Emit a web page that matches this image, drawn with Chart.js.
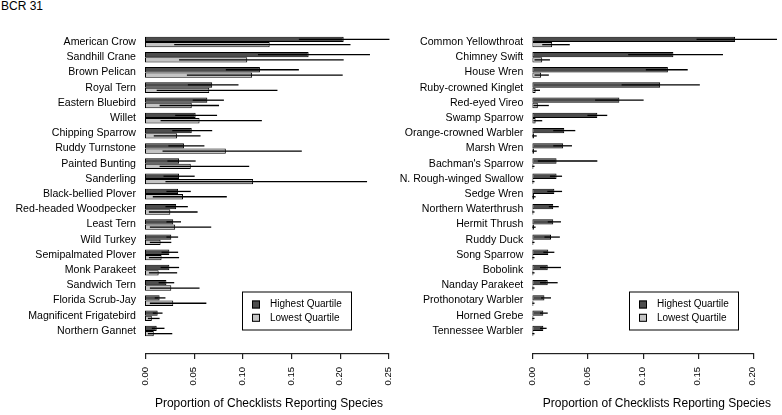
<!DOCTYPE html>
<html>
<head>
<meta charset="utf-8">
<script src="https://cdn.jsdelivr.net/npm/chart.js@4.4.0/dist/chart.umd.min.js"></script>
<style>
  body { margin: 0; background: #fff; width: 782px; height: 415px; position: relative; overflow: hidden;
         font-family: "Liberation Sans", Arial, sans-serif; }
  #title { position: absolute; left: 1px; top: -1px; font-size: 12px; line-height: 14px; color: #000; }
  #w1 { position: absolute; left: 0; top: 0; width: 400px; height: 415px; }
  #w2 { position: absolute; left: 380px; top: 0; width: 402px; height: 415px; }
</style>
</head>
<body>
<div id="title">BCR 31</div>
<div id="w1"><canvas id="left"></canvas></div>
<div id="w2"><canvas id="right"></canvas></div>
<script>
// left panel
var leftSpecies = ["American Crow", "Sandhill Crane", "Brown Pelican", "Royal Tern", "Eastern Bluebird",
  "Willet", "Chipping Sparrow", "Ruddy Turnstone", "Painted Bunting", "Sanderling",
  "Black-bellied Plover", "Red-headed Woodpecker", "Least Tern", "Wild Turkey", "Semipalmated Plover",
  "Monk Parakeet", "Sandwich Tern", "Florida Scrub-Jay", "Magnificent Frigatebird", "Northern Gannet"];
var leftHigh   = [0.204, 0.168, 0.118, 0.069, 0.064, 0.052, 0.048, 0.040, 0.035, 0.035, 0.034, 0.032, 0.029, 0.027, 0.025, 0.025, 0.022, 0.015, 0.013, 0.012];
var leftHighLo = [0.158, 0.116, 0.083, 0.044, 0.049, 0.031, 0.028, 0.024, 0.023, 0.019, 0.022, 0.021, 0.022, 0.022, 0.017, 0.016, 0.014, 0.010, 0.008, 0.007];
var leftHighHi = [0.251, 0.231, 0.158, 0.096, 0.081, 0.074, 0.069, 0.061, 0.052, 0.051, 0.047, 0.044, 0.037, 0.034, 0.034, 0.035, 0.030, 0.021, 0.018, 0.020];
var leftLow    = [0.128, 0.105, 0.110, 0.066, 0.048, 0.056, 0.033, 0.083, 0.047, 0.111, 0.039, 0.026, 0.031, 0.016, 0.017, 0.014, 0.027, 0.029, 0.007, 0.009];
var leftLowLo  = [0.030, 0.035, 0.043, 0.012, 0.015, 0.016, 0.009, 0.018, 0.015, 0.021, 0.008, 0.004, 0.005, 0.005, 0.004, 0.004, 0.005, 0.005, 0.003, 0.003];
var leftLowHi  = [0.211, 0.204, 0.203, 0.136, 0.076, 0.120, 0.057, 0.161, 0.107, 0.228, 0.084, 0.054, 0.068, 0.027, 0.035, 0.033, 0.056, 0.063, 0.015, 0.028];
var leftTicks  = [0, 0.05, 0.10, 0.15, 0.20, 0.25];

// right panel
var rightSpecies = ["Common Yellowthroat", "Chimney Swift", "House Wren", "Ruby-crowned Kinglet", "Red-eyed Vireo",
  "Swamp Sparrow", "Orange-crowned Warbler", "Marsh Wren", "Bachman's Sparrow", "N. Rough-winged Swallow",
  "Sedge Wren", "Northern Waterthrush", "Hermit Thrush", "Ruddy Duck", "Song Sparrow",
  "Bobolink", "Nanday Parakeet", "Prothonotary Warbler", "Horned Grebe", "Tennessee Warbler"];
var rightHigh   = [0.184, 0.128, 0.123, 0.116, 0.079, 0.059, 0.029, 0.028, 0.022, 0.022, 0.020, 0.019, 0.019, 0.017, 0.0145, 0.014, 0.014, 0.011, 0.010, 0.010];
var rightHighLo = [0.149, 0.087, 0.103, 0.081, 0.057, 0.050, 0.019, 0.019, 0.005, 0.016, 0.0136, 0.015, 0.014, 0.011, 0.010, 0.007, 0.007, 0.008, 0.007, 0.007];
var rightHighHi = [0.222, 0.173, 0.141, 0.152, 0.101, 0.068, 0.039, 0.036, 0.059, 0.027, 0.027, 0.024, 0.026, 0.025, 0.020, 0.026, 0.023, 0.017, 0.014, 0.013];
var rightLow    = [0.018, 0.009, 0.008, 0.003, 0.005, 0.003, 0.0015, 0.0015, 0.001, 0.001, 0.0015, 0.001, 0.0015, 0.001, 0.001, 0.001, 0.001, 0.001, 0.001, 0.001];
var rightLowLo  = [0.009, 0.002, 0.002, 0.001, 0.001, 0.001, 0, 0, 0, 0, 0, 0, 0, 0, 0, 0, 0, 0, 0, 0];
var rightLowHi  = [0.034, 0.016, 0.015, 0.007, 0.015, 0.009, 0.004, 0.004, 0.002, 0.002, 0.003, 0.002, 0.003, 0.002, 0.002, 0.002, 0.002, 0.002, 0.002, 0.002];
var rightTicks  = [0, 0.05, 0.10, 0.15, 0.20];

var seriesNames = ["Highest Quartile", "Lowest Quartile"];
var FONT = '"Liberation Sans", Arial, sans-serif';

// error lines over each bar, plus an R style axis set below the plot
var errorBars = {
  id: 'errorBars',
  afterDatasetsDraw: function(chart) {
    var ctx = chart.ctx, x = chart.scales.x;
    ctx.save();
    ctx.strokeStyle = '#000';
    ctx.lineWidth = 1.3;
    chart.data.datasets.forEach(function(ds, i) {
      chart.getDatasetMeta(i).data.forEach(function(bar, j) {
        ctx.beginPath();
        ctx.moveTo(x.getPixelForValue(ds.errLo[j]), bar.y);
        ctx.lineTo(x.getPixelForValue(ds.errHi[j]), bar.y);
        ctx.stroke();
      });
    });

    // axis line only from first to last tick
    var y = Math.round(chart.chartArea.bottom + 14.4);
    var t = x.ticks.map(function(tk) { return tk.value; });
    var x0 = Math.round(x.getPixelForValue(t[0]));
    var x1 = Math.round(x.getPixelForValue(t[t.length - 1]));
    ctx.fillStyle = '#222';
    ctx.fillRect(x0, y, x1 - x0 + 1, 1.2);
    t.forEach(function(v) {
      ctx.fillRect(Math.round(x.getPixelForValue(v)), y, 1.2, 6);
    });
    ctx.restore();
  }
};

// boxed legend inside the plot
var boxLegend = {
  id: 'boxLegend',
  afterDraw: function(chart, args, opts) {
    var ctx = chart.ctx;
    var bx = opts.x, by = opts.y, bw = 109, bh = 38;
    ctx.save();
    ctx.strokeStyle = '#000';
    ctx.lineWidth = 1;
    ctx.strokeRect(bx + 0.5, by + 0.5, bw, bh);
    ctx.font = '10px ' + FONT;
    ctx.textBaseline = 'middle';
    chart.data.datasets.forEach(function(ds, i) {
      var cy = by + 13 + i * 13.3;
      ctx.fillStyle = ds.backgroundColor;
      ctx.fillRect(bx + 10, cy - 4, 8, 8);
      ctx.strokeRect(bx + 10.5, cy - 3.5, 7, 7);
      ctx.fillStyle = '#000';
      ctx.fillText(ds.label, bx + 28, cy);
    });
    ctx.restore();
  }
};

function makePanel(id, labels, high, highLo, highHi, low, lowLo, lowHi, ticks, xMax, areaLeft, padRight, legendX) {
  return new Chart(document.getElementById(id).getContext('2d'), {
    type: 'bar',
    data: {
      labels: labels,
      datasets: [{
        label: seriesNames[0],
        data: high,
        errLo: highLo,
        errHi: highHi,
        backgroundColor: '#4d4d4d',
        borderColor: '#000',
        borderWidth: 1,
        borderSkipped: false
      }, {
        label: seriesNames[1],
        data: low,
        errLo: lowLo,
        errHi: lowHi,
        backgroundColor: '#c4c4c4',
        borderColor: '#000',
        borderWidth: 1,
        borderSkipped: false
      }]
    },
    options: {
      indexAxis: 'y',
      responsive: true,
      maintainAspectRatio: false,
      animation: false,
      categoryPercentage: 0.7,
      barPercentage: 1.0,
      layout: { padding: { top: 34.4, right: padRight, left: 0, bottom: 0 } },
      plugins: {
        legend: { display: false },
        tooltip: { enabled: false },
        boxLegend: { x: legendX, y: 291.5 }
      },
      scales: {
        x: {
          min: 0,
          max: xMax,
          // the tick length only pushes the labels down; nothing is drawn
          grid: { display: false, drawTicks: true, tickLength: 28.4 },
          border: { display: false },
          afterBuildTicks: function(scale) {
            scale.ticks = ticks.map(function(v) { return { value: v }; });
          },
          afterFit: function(scale) { scale.height = 76.4; },
          ticks: {
            autoSkip: false,
            minRotation: 90,
            maxRotation: 90,
            padding: 0,
            color: '#000',
            font: { family: FONT, size: 9.5 },
            callback: function(v) { return Number(v).toFixed(2); }
          },
          title: {
            display: true,
            text: 'Proportion of Checklists Reporting Species',
            color: '#000',
            font: { family: FONT, size: 12 },
            padding: { top: 0, bottom: 4 }
          }
        },
        y: {
          grid: { display: false, tickLength: 0 },
          border: { display: false },
          afterFit: function(scale) { scale.width = areaLeft; },
          ticks: {
            autoSkip: false,
            padding: 9,
            color: '#000',
            font: { family: FONT, size: 10.6 }
          }
        }
      }
    },
    plugins: [errorBars, boxLegend]
  });
}

makePanel('left', leftSpecies, leftHigh, leftHighLo, leftHighHi, leftLow, leftLowLo, leftLowHi,
  leftTicks, 0.2546, 145, 7, 242);
makePanel('right', rightSpecies, rightHigh, rightHighLo, rightHighHi, rightLow, rightLowLo, rightLowHi,
  rightTicks, 0.226, 152.3, 0.6, 249);
</script>
</body>
</html>
